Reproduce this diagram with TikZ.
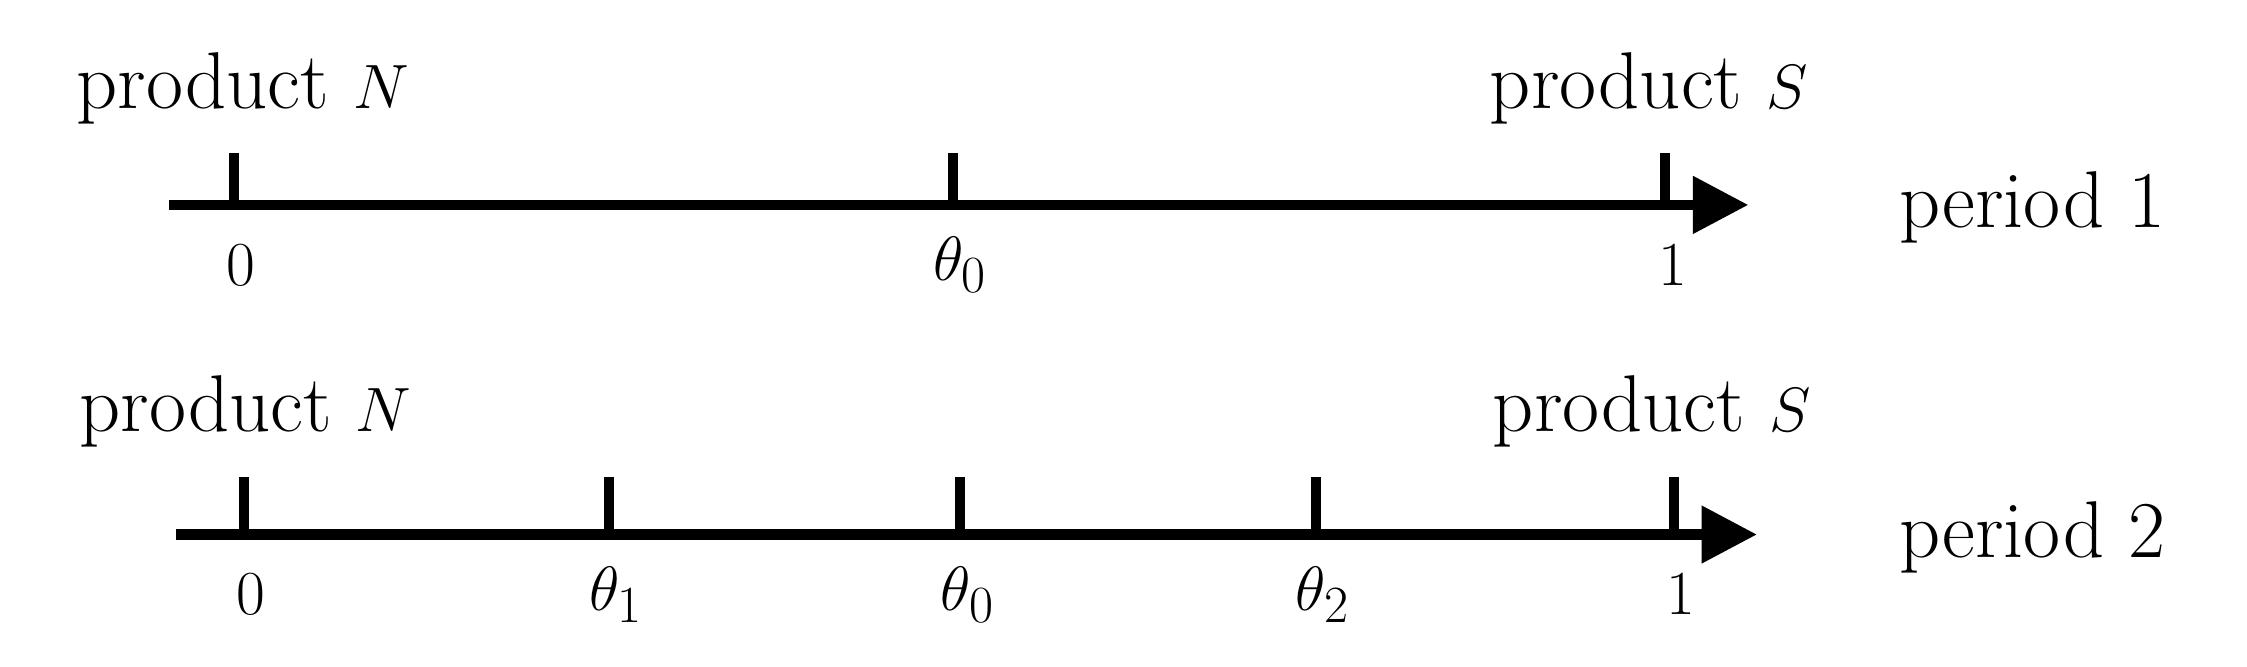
\documentclass[tikz,border=0pt]{standalone}
\usetikzlibrary{arrows.meta}
\begin{document}
\begin{tikzpicture}[x=0.02cm,y=-0.02cm,
  axis/.style={line width=4pt,-{Triangle[length=22pt,width=22pt]}},
  tk/.style={line width=4pt},
  txt/.style={inner sep=0pt,font=\fontsize{32}{38}\selectfont},
  lab/.style={inner sep=0pt,font=\fontsize{32}{38}\selectfont}]
\useasboundingbox (0,0) rectangle (1568,465);
% period 1
\coordinate (a1) at (118,143);
\coordinate (b1) at (1220,143);
\draw[axis] (a1) -- (b1);
\foreach \x/\n/\l in {163/t10/$0$,665/t11/$\theta_0$,1162/t12/$1$}{
  \coordinate (\n) at (\x,143);
  \draw[tk] (\n) -- ++(0,-36);
  \node[lab] at (\x+5,185) {\l};
}
\node[txt,anchor=west] (pn1) at (53,62) {product $N$};
\node[txt,anchor=east] (ps1) at (1262,62) {product $S$};
\node[txt,anchor=west] (per1) at (1325,145) {period 1};
% period 2
\coordinate (a2) at (123,373);
\coordinate (b2) at (1226,373);
\draw[axis] (a2) -- (b2);
\foreach \x/\n/\l in {170/t20/$0$,425/t21/$\theta_1$,670/t22/$\theta_0$,918/t23/$\theta_2$,1168/t24/$1$}{
  \coordinate (\n) at (\x,373);
  \draw[tk] (\n) -- ++(0,-40);
  \node[lab] at (\x+5,415) {\l};
}
\node[txt,anchor=west] (pn2) at (55,287) {product $N$};
\node[txt,anchor=east] (ps2) at (1264,287) {product $S$};
\node[txt,anchor=west] (per2) at (1325,375) {period 2};
\end{tikzpicture}
\end{document}
